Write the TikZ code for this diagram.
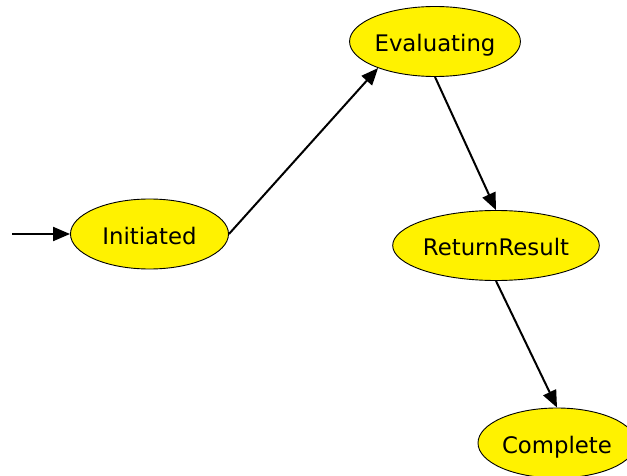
\documentclass[tikz,border=0pt]{standalone}
\usepackage{fontspec}
\setmainfont{DejaVu Sans}
\usetikzlibrary{shapes.geometric,arrows.meta}
\begin{document}
\begin{tikzpicture}[x=1pt,y=-1pt,
  state/.style={ellipse,draw=black,line width=0.9pt,fill=yellow,inner sep=0pt,
    minimum width=158pt,minimum height=70pt,text height=20.5pt,text depth=0pt,
    font=\fontsize{22.8}{27}\selectfont},
  edge/.style={line width=2pt,-{Triangle[length=17pt,width=14pt]}}]
  \useasboundingbox (0,0) rectangle (627,476);
  \clip (0,0) rectangle (627,476);

  % states
  \node[state] (ini) at (149.5,234) {Initiated};
  \node[state] (eva) at (435,41.5) {Evaluating};
  \node[state,minimum width=186pt] (ret) at (496,245.5) {ReturnResult};
  \node[state] (com) at (557,443) {Complete};

  % entry point
  \coordinate (start) at (12,234);

  % transitions
  \draw[edge] (start) -- (ini.west);
  \draw[edge] (ini.east) -- (eva.205);
  \draw[edge] (eva.south) -- (ret.north);
  \draw[edge] (ret.south) -- (com.north);
\end{tikzpicture}
\end{document}
